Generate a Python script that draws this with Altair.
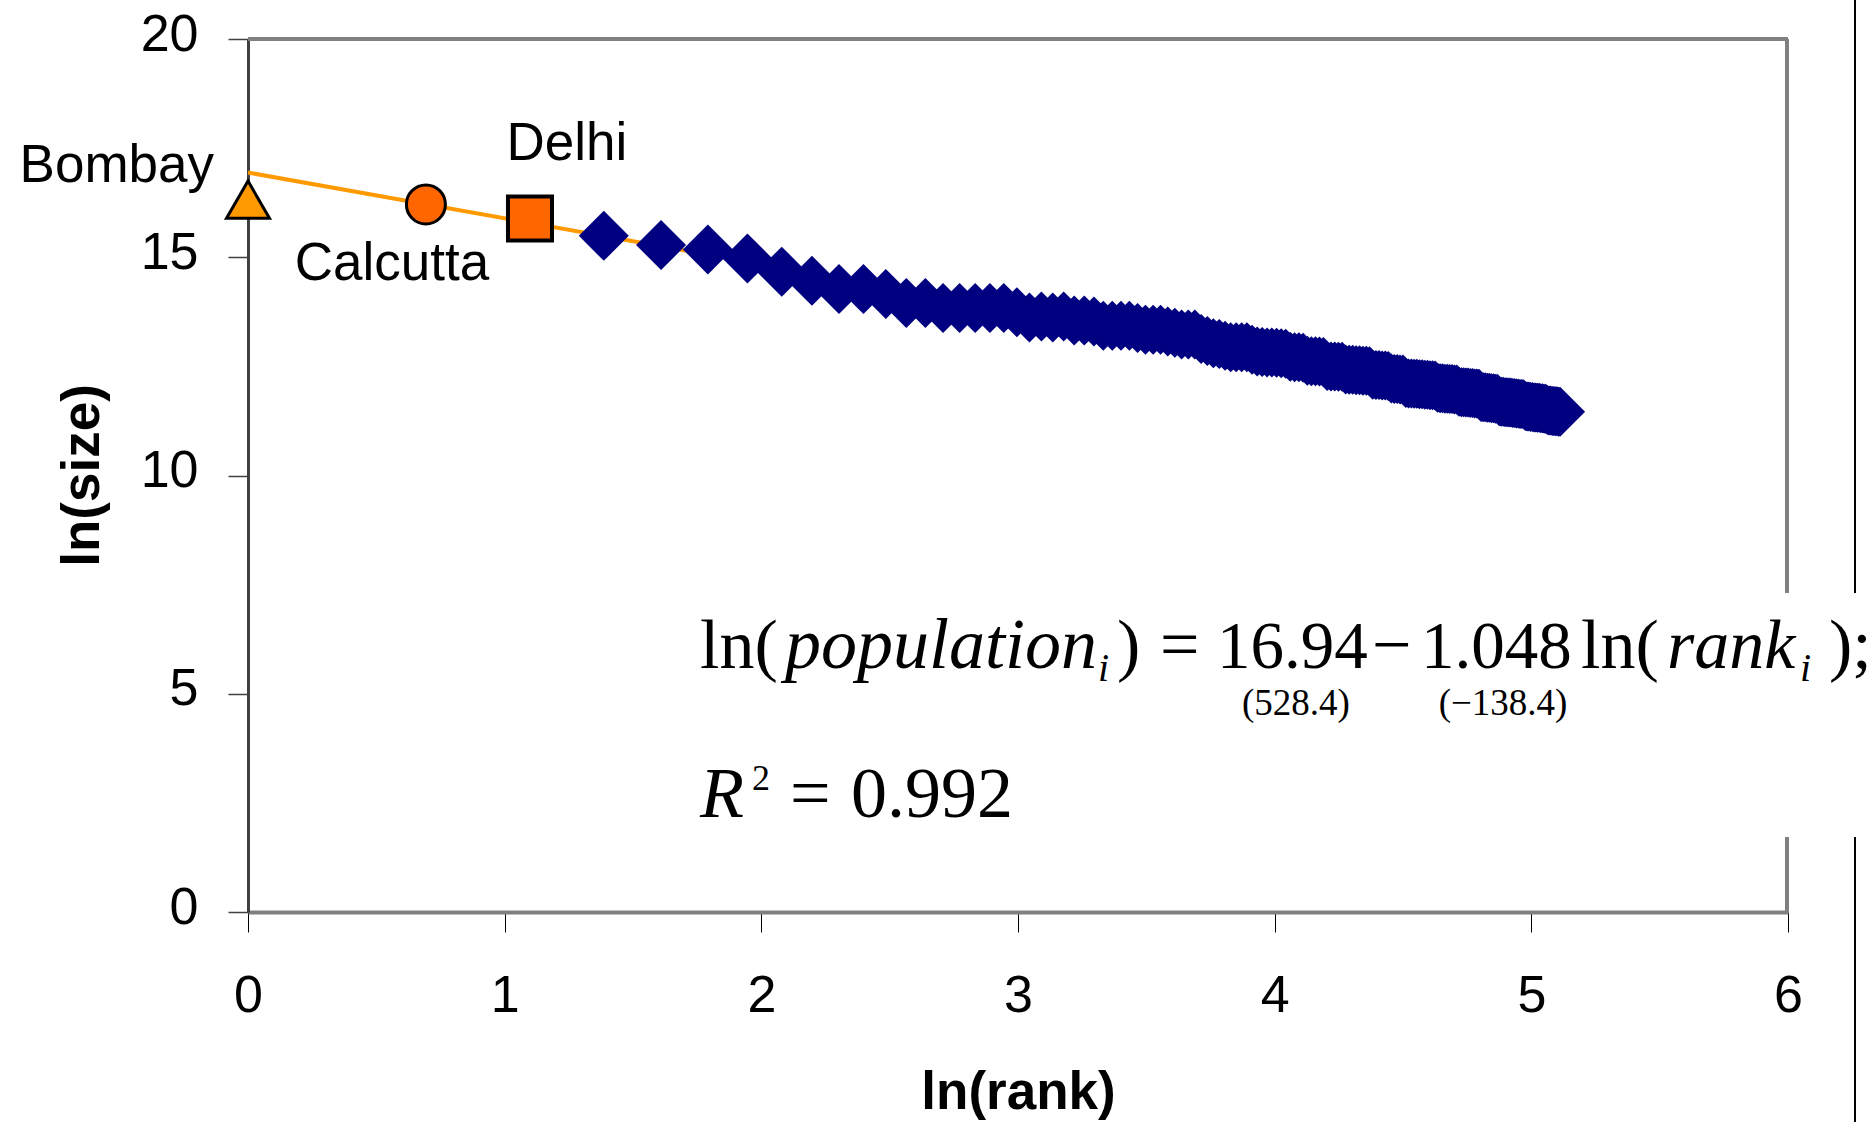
import altair as alt
import numpy as np
import pandas as pd

# ---------------- data ----------------
city_names = ["Bombay", "Calcutta", "Delhi"]
city_ranks = [1, 2, 3]
city_ln_size = [16.32, 16.21, 15.89]

other_ranks = list(range(4, 167))
other_ln_size = [
    15.49, 15.28, 15.18, 14.97, 14.67, 14.46, 14.27, 14.27, 14.16, 13.95,
    13.95, 13.84, 13.84, 13.84, 13.84, 13.84, 13.74, 13.62, 13.64, 13.62,
    13.64, 13.55, 13.55, 13.53, 13.43, 13.43, 13.43, 13.43, 13.38, 13.34,
    13.34, 13.34, 13.30, 13.27, 13.23, 13.23, 13.23, 13.13, 13.08, 13.03,
    13.01, 12.97, 12.94, 12.94, 12.94, 12.94, 12.88,
    12.84, 12.83, 12.82, 12.82, 12.81, 12.80, 12.79,
    12.72, 12.71, 12.71, 12.70,
    12.63, 12.62, 12.62, 12.61, 12.60,
    12.51, 12.50, 12.50, 12.49, 12.49,
    12.43, 12.42, 12.42, 12.41, 12.41, 12.40, 12.40, 12.39,
    12.31, 12.30, 12.30, 12.29, 12.29, 12.28,
    12.22, 12.21, 12.21, 12.20, 12.20,
    12.12, 12.11, 12.11, 12.10, 12.10, 12.09, 12.09, 12.08, 12.08, 12.07, 12.07, 12.06,
    12.01, 12.00, 12.00, 11.99, 11.99, 11.98, 11.98, 11.97, 11.97,
    11.92, 11.91, 11.91, 11.90, 11.90, 11.89, 11.89, 11.88, 11.88, 11.87,
    11.80, 11.79, 11.79, 11.78, 11.78, 11.77, 11.77, 11.76, 11.76,
    11.70, 11.69, 11.69, 11.68, 11.68, 11.67, 11.67, 11.66, 11.66, 11.65, 11.65, 11.64, 11.64, 11.63,
    11.59, 11.58, 11.58, 11.57, 11.57, 11.56, 11.56, 11.55, 11.55, 11.54, 11.54, 11.53, 11.53,
    11.50, 11.49, 11.49, 11.48, 11.48, 11.47, 11.47, 11.46, 11.46,
]

fit_intercept = 16.94
fit_slope = -1.048
fit_rank_range = [1, 166]

x_ticks = [0, 1, 2, 3, 4, 5, 6]
y_ticks = [0, 5, 10, 15, 20]

# ---------------- frames ----------------
cities = pd.DataFrame({"city": city_names, "lnrank": np.log(city_ranks), "lnsize": city_ln_size})
others = pd.DataFrame({"lnrank": np.log(other_ranks), "lnsize": other_ln_size})
fit_x = np.log(fit_rank_range)
fit = pd.DataFrame({"lnrank": fit_x, "lnsize": fit_intercept + fit_slope * fit_x})

W, H = 1540, 873
SANS = "Liberation Sans"
SERIF = "Liberation Serif"

xs = alt.Scale(domain=[0, 6], nice=False, zero=False)
ys = alt.Scale(domain=[0, 20], nice=False, zero=False)

x_axis = alt.Axis(
    values=x_ticks, format="d", title="ln(rank)", grid=False, tickSize=20, tickColor="#000000",
    tickWidth=1, labelFont=SANS, labelFontSize=52, labelColor="#000000", labelPadding=38,
    labelFlush=False, domainColor="#808080", domainWidth=4, titleFont=SANS, titleFontSize=53,
    titleFontWeight="bold", titleColor="#000000", titleX=770, titleY=196, titleAlign="center",
    titleBaseline="alphabetic",
)
y_axis = alt.Axis(
    values=y_ticks, format="d", title="ln(size)", grid=False, tickSize=20, tickColor="#404040",
    tickWidth=1.5, labelFont=SANS, labelFontSize=52, labelColor="#000000", labelPadding=30,
    labelOffset=-5, labelFlush=False, domainColor="#404040", domainWidth=3, titleFont=SANS,
    titleFontSize=53, titleFontWeight="bold", titleColor="#000000", titleX=-166, titleY=436,
    titleAngle=270, titleAlign="center", titleBaseline="middle",
)

one = alt.Data(values=[{"a": 1}])


def px(v_full_x):
    return v_full_x - 248


def py(v_full_y):
    return v_full_y - 39


# frame (top and right borders)
top_border = alt.Chart(one).mark_rule(color="#808080", strokeWidth=4).encode(
    x=alt.value(0), x2=alt.value(W), y=alt.value(0))
right_border = alt.Chart(one).mark_rule(color="#808080", strokeWidth=4).encode(
    x=alt.value(W - 1), y=alt.value(0), y2=alt.value(H))

fit_line = alt.Chart(fit).mark_line(color="#FF9900", strokeWidth=4).encode(
    x=alt.X("lnrank:Q", scale=xs, axis=x_axis),
    y=alt.Y("lnsize:Q", scale=ys, axis=y_axis),
)

diamonds = alt.Chart(others).mark_point(
    shape="diamond", filled=True, fill="#000080", color="#000080", size=2500, opacity=1, strokeWidth=0
).encode(x=alt.X("lnrank:Q", scale=xs), y=alt.Y("lnsize:Q", scale=ys))


def city_point(name, shape, fill, size, sw):
    return alt.Chart(cities).transform_filter(alt.datum.city == name).mark_point(
        shape=shape, filled=True, fill=fill, stroke="#000000", strokeWidth=sw, size=size, opacity=1
    ).encode(x=alt.X("lnrank:Q", scale=xs), y=alt.Y("lnsize:Q", scale=ys))


def city_label(name, align, dx, dy):
    return alt.Chart(cities).transform_filter(alt.datum.city == name).mark_text(
        align=align, baseline="alphabetic", dx=dx, dy=dy, font=SANS, fontSize=53, color="#000000"
    ).encode(x=alt.X("lnrank:Q", scale=xs), y=alt.Y("lnsize:Q", scale=ys), text="city:N")


bombay = city_point("Bombay", "triangle-up", "#FF9900", 1850, 3)
calcutta = city_point("Calcutta", "circle", "#FF6600", 1520, 3)
delhi = city_point("Delhi", "square", "#FF6600", 1936, 4)

lab_b = city_label("Bombay", "right", -34, -18)
lab_c = city_label("Calcutta", "center", -34, 76)
lab_d = city_label("Delhi", "center", 37, -58)

black_line = alt.Chart(one).mark_rule(color="#000000", strokeWidth=2).encode(
    x=alt.value(px(1855)), y=alt.value(py(0)), y2=alt.value(py(1122)))

white_box = alt.Chart(one).mark_rect(color="#FFFFFF").encode(
    x=alt.value(px(688)), x2=alt.value(px(1875)), y=alt.value(py(593)), y2=alt.value(py(837)))


def eq_piece(text, fx, fy, size, style="normal", align="left"):
    return alt.Chart(alt.Data(values=[{"t": text}])).mark_text(
        align=align, baseline="alphabetic", font=SERIF, fontSize=size, fontStyle=style, color="#000000"
    ).encode(x=alt.value(px(fx)), y=alt.value(py(fy)), text="t:N")


eq = [
    eq_piece("ln(", 700, 668, 70),
    eq_piece("population", 785, 668, 72, "italic"),
    eq_piece("i", 1098, 681, 40, "italic"),
    eq_piece(")", 1117, 668, 70),
    eq_piece("=", 1160, 668, 70),
    eq_piece("16.94", 1217, 668, 67),
    eq_piece("\u2212", 1372, 668, 70),
    eq_piece("1.048", 1421, 668, 67),
    eq_piece("ln(", 1581, 668, 70),
    eq_piece("rank", 1667, 668, 70, "italic"),
    eq_piece("i", 1800, 681, 40, "italic"),
    eq_piece(");", 1829, 668, 70),
    eq_piece("(528.4)", 1296, 715, 37, align="center"),
    eq_piece("(\u2212138.4)", 1503, 715, 37, align="center"),
    eq_piece("R", 700, 817, 72, "italic"),
    eq_piece("2", 752, 790, 36),
    eq_piece("=", 790, 817, 72),
    eq_piece("0.992", 851, 817, 72),
]

chart = alt.layer(
    top_border, right_border, fit_line, diamonds, bombay, calcutta, delhi,
    lab_b, lab_c, lab_d, black_line, white_box, *eq
).properties(
    width=W, height=H,
    autosize=alt.AutoSizeParams(type="none"),
    padding={"left": 248, "top": 39, "right": 1875 - 248 - W, "bottom": 1122 - 39 - H},
    background="#FFFFFF",
).configure_view(stroke=None)

chart.save("out.html", embed_options={"renderer": "svg", "actions": False})
